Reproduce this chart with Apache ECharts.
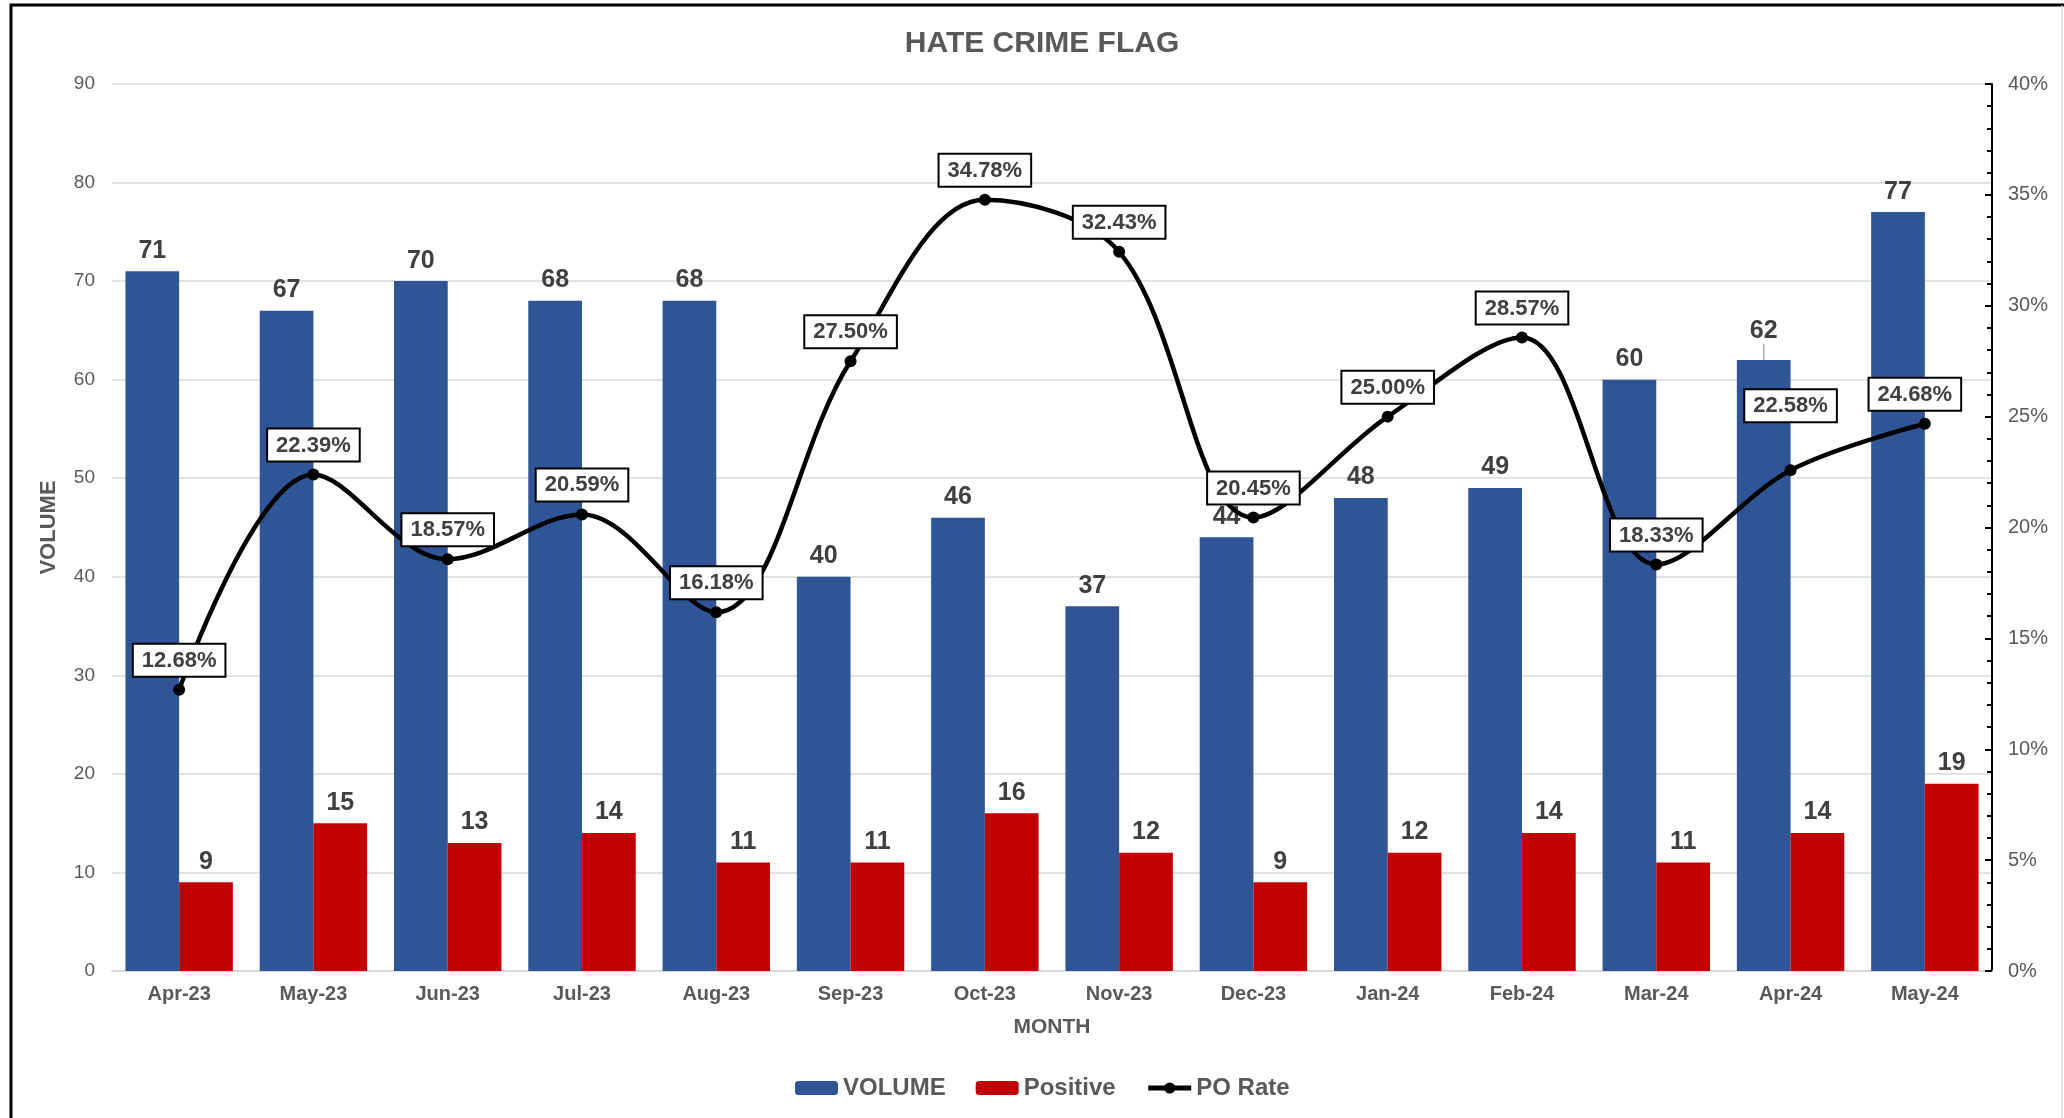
<!DOCTYPE html>
<html>
<head>
<meta charset="utf-8">
<script src="https://cdn.jsdelivr.net/npm/echarts@6/dist/echarts.min.js"></script>
<style>
html,body{margin:0;padding:0;background:#fff;}
#chart{width:2064px;height:1118px;}
</style>
</head>
<body>
<div id="chart"></div>
<script>
const months = ['Apr-23','May-23','Jun-23','Jul-23','Aug-23','Sep-23','Oct-23','Nov-23','Dec-23','Jan-24','Feb-24','Mar-24','Apr-24','May-24'];
const volume = [71,67,70,68,68,40,46,37,44,48,49,60,62,77];
const positive = [9,15,13,14,11,11,16,12,9,12,14,11,14,19];
const poRate = [12.68,22.39,18.57,20.59,16.18,27.50,34.78,32.43,20.45,25.00,28.57,18.33,22.58,24.68];
const leftTicks = {min:0, max:90, interval:10};
const rightTicks = {min:0, max:40, interval:5};

const FONT = '"Liberation Sans", Arial, sans-serif';
const chart = echarts.init(document.getElementById('chart'));

const rateData = poRate.map((v,i)=>{
  const d = {value:v};
  if (i === 12) d.label = {distance: 43};
  if (i === 13) d.label = {offset: [-10,0]};
  return d;
});
const volumeData = volume.map((v,i)=>{
  const d = {value:v};
  if (i === 12) d.labelLine = {show:true, lineStyle:{color:'#a6a6a6', width:1.5}};
  return d;
});

chart.setOption({
  backgroundColor:'#fff',
  animation:false,
  textStyle:{fontFamily:FONT},
  title:{
    text:'HATE CRIME FLAG', left:1037, textAlign:'center', top:24,
    textStyle:{fontFamily:FONT, fontSize:30, fontWeight:'bold', color:'#595959'}
  },
  graphic:[
    {type:'rect', shape:{x:11, y:5, width:2080, height:1140}, style:{fill:'none', stroke:'#000', lineWidth:3}, z:100},
    {type:'line', shape:{x1:2062, y1:5, x2:2062, y2:1118}, style:{stroke:'#d0d0d0', lineWidth:1}, z:100}
  ],
  legend:{
    bottom:13, left:790, itemWidth:43, itemHeight:14, itemGap:30,
    textStyle:{fontFamily:FONT, fontSize:24, fontWeight:'bold', color:'#595959'},
    data:['VOLUME','Positive',{name:'PO Rate', lineStyle:{width:5}, itemStyle:{borderWidth:0}}]
  },
  grid:{left:112, right:72, top:84, bottom:147},
  xAxis:{
    type:'category', data:months,
    name:'MONTH', nameLocation:'middle', nameGap:46,
    nameTextStyle:{fontFamily:FONT, fontSize:21, fontWeight:'bold', color:'#595959'},
    axisLine:{lineStyle:{color:'#d9d9d9', width:2}},
    axisTick:{show:false},
    axisLabel:{fontFamily:FONT, fontSize:20, fontWeight:'bold', color:'#595959', margin:13}
  },
  yAxis:[
    {
      type:'value', min:leftTicks.min, max:leftTicks.max, interval:leftTicks.interval,
      name:'VOLUME', nameLocation:'middle', nameGap:52, nameRotate:90,
      nameTextStyle:{fontFamily:FONT, fontSize:22, fontWeight:'bold', color:'#595959'},
      axisLine:{show:false}, axisTick:{show:false},
      axisLabel:{fontFamily:FONT, fontSize:19, color:'#595959', margin:17},
      splitLine:{lineStyle:{color:'#d9d9d9', width:1.5}}
    },
    {
      type:'value', min:rightTicks.min, max:rightTicks.max, interval:rightTicks.interval,
      position:'right',
      axisLine:{show:true, lineStyle:{color:'#000', width:2}},
      axisTick:{show:true, inside:true, length:7, lineStyle:{color:'#000', width:2}},
      minorTick:{show:true, splitNumber:5, length:5, lineStyle:{color:'#000', width:2}},
      axisLabel:{fontFamily:FONT, fontSize:20, color:'#595959', margin:16, formatter:'{value}%'},
      splitLine:{show:false}
    }
  ],
  series:[
    {
      name:'VOLUME', type:'bar', data:volumeData, barGap:'0%', barCategoryGap:'20%',
      itemStyle:{color:'#2F5597'},
      label:{show:true, position:'top', distance:8, fontFamily:FONT, fontSize:25, fontWeight:'bold', color:'#404040'},
      labelLayout:function(p){ return p.dataIndex===12 ? {dy:-8} : {}; },
      z:2
    },
    {
      name:'Positive', type:'bar', data:positive,
      itemStyle:{color:'#C00000'},
      label:{show:true, position:'top', distance:8, fontFamily:FONT, fontSize:25, fontWeight:'bold', color:'#404040'},
      z:2
    },
    {
      name:'PO Rate', type:'line', yAxisIndex:1, data:rateData, smooth:0.35,
      symbol:'circle', symbolSize:12,
      lineStyle:{color:'#000', width:4.5},
      itemStyle:{color:'#000'},
      label:{
        show:true, position:'top', distance:8,
        formatter:function(p){ return p.value.toFixed(2)+'%'; },
        fontFamily:FONT, fontSize:22, fontWeight:'bold', color:'#404040',
        backgroundColor:'#fff', borderColor:'#000', borderWidth:2, padding:[5,8,4,8]
      },
      z:5
    }
  ]
});
</script>
</body>
</html>
